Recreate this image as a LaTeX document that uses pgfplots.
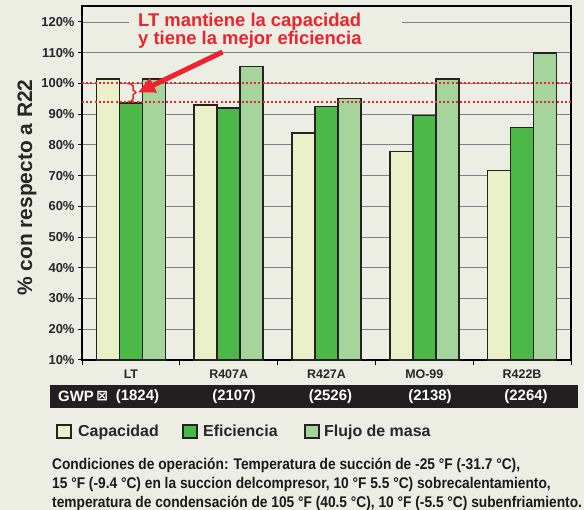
\documentclass[border=0pt]{standalone}
\usepackage{pgfplots}
\pgfplotsset{compat=1.18}
\usepackage{fontspec}
\setmainfont{Liberation Sans}
\newfontfamily\symfont{DejaVu Sans}
\usetikzlibrary{arrows.meta}
\definecolor{bg}{RGB}{236,238,227}
\definecolor{capc}{RGB}{234,240,200}
\definecolor{efic}{RGB}{76,184,72}
\definecolor{flujo}{RGB}{165,212,157}
\definecolor{rojo}{RGB}{237,35,45}
\definecolor{band}{RGB}{35,31,32}
\definecolor{edge}{RGB}{35,35,35}
\begin{document}
\begin{tikzpicture}[x=1bp,y=1bp]
\path[fill=bg] (-82,-150) rectangle (502,360);
\useasboundingbox (-82,-150) rectangle (502,360);
\begin{axis}[
  at={(0,0)}, anchor=south west, scale only axis,
  width=489bp, height=354bp,
  ybar=0pt, bar width=23bp,
  xmin=-0.5, xmax=4.5, ymin=10, ymax=125.2,
  xtick={0,1,2,3,4},
  xticklabels={LT,R407A,R427A,MO-99,R422B},
  minor xtick={-0.5,0.5,1.5,2.5,3.5,4.5},
  major x tick style={draw=none},
  ytick={10,20,...,120},
  yticklabel={\pgfmathprintnumber{\tick}\%},
  /pgf/number format/assume math mode=true,
  xtick pos=lower, ytick pos=left,
  tick align=outside,
  major tick length=4bp, minor tick length=5bp,
  tick style={black, line width=1bp},
  ymajorgrids,
  grid style={black!50, line width=0.9bp},
  axis line style={black, line width=2bp},
  xticklabel style={font=\fontsize{12.5}{12.5}\selectfont\bfseries, text=black!85, yshift=-2bp},
  yticklabel style={font=\fontsize{13}{13}\selectfont\bfseries, text=black!85},
  every axis plot/.append style={draw=edge, line width=1.6bp},
  clip=false,
]
\addplot[fill=capc, draw=edge] coordinates {(0,101.4) (1,93.0) (2,83.8) (3,77.9) (4,71.7)};
\addplot[fill=efic, draw=edge] coordinates {(0,93.6) (1,92.0) (2,92.5) (3,89.6) (4,85.6)};
\addplot[fill=flujo, draw=edge] coordinates {(0,101.4) (1,105.5) (2,95.1) (3,101.5) (4,109.9)};
\draw[rojo, line width=2bp, dash pattern=on 2bp off 2.2bp] (axis cs:-0.5,100) -- (axis cs:4.52,100);
\draw[rojo, line width=2bp, dash pattern=on 2bp off 2.2bp] (axis cs:-0.5,93.8) -- (axis cs:4.52,93.8);
\end{axis}
% y label
\node[rotate=90, font=\fontsize{21}{21}\selectfont\bfseries, text=black!85] at (-55,172.5) {\% con respecto a R22};
% title annotation
\path[fill=bg] (47,334) rectangle (320,342);
\node[anchor=base west, inner sep=0pt, text=rojo, font=\fontsize{18.5}{18.5}\selectfont\bfseries] at (56,333) {LT mantiene la capacidad};
\node[anchor=base west, inner sep=0pt, text=rojo, font=\fontsize{18.5}{18.5}\selectfont\bfseries] at (56,315) {y tiene la mejor eficiencia};
% bracket
\draw[rojo, line width=1.5bp, line join=round] (45.5,276.5) -- (49,276) -- (51,274) -- (51,270) -- (54,267.5) -- (51,265) -- (51,261) -- (49,258.5) -- (45.5,258.5);
% arrow
\draw[rojo, line width=5bp, -{Triangle[length=17bp,width=15bp]}] (140.5,308) -- (56,267.5);
% GWP band
\path[fill=band] (-32,-25) rectangle (496,-48);
\node[anchor=west, inner sep=0pt, text=white, font=\fontsize{15}{15}\selectfont\bfseries] at (-24,-36.5) {GWP\,\raisebox{1bp}{\symfont\fontsize{14}{14}\selectfont ⊠}};
\foreach \xx/\val in {55.5/1824,152/2107,248.5/2526,348/2138,444/2264}{
  \node[inner sep=0pt, text=white, font=\fontsize{15}{15}\selectfont\bfseries] at (\xx,-36.5) {(\val)};
}
% legend
\draw[edge, line width=1.2bp, fill=capc] (-25,-65) rectangle (-11,-78);
\node[anchor=base west, inner sep=0pt, text=black!85, font=\fontsize{16}{16}\selectfont\bfseries] at (-4,-76.5) {Capacidad};
\draw[edge, line width=1.2bp, fill=efic] (101,-65) rectangle (115,-78);
\node[anchor=base west, inner sep=0pt, text=black!85, font=\fontsize{16}{16}\selectfont\bfseries] at (121,-76.5) {Eficiencia};
\draw[edge, line width=1.2bp, fill=flujo] (223,-65) rectangle (237,-78);
\node[anchor=base west, inner sep=0pt, text=black!85, font=\fontsize{16}{16}\selectfont\bfseries] at (242,-76.5) {Flujo de masa};
% footnote
\node[anchor=base west, inner sep=0pt, xscale=0.89, transform shape, text=black!90, font=\fontsize{15.5}{15.5}\selectfont\bfseries] at (-30,-109) {Condiciones de operación: Temperatura de succión de -25 °F (-31.7 °C),};
\node[anchor=base west, inner sep=0pt, xscale=0.89, transform shape, text=black!90, font=\fontsize{15.5}{15.5}\selectfont\bfseries] at (-30,-128) {15 °F (-9.4 °C) en la succion delcompresor, 10 °F 5.5 °C) sobrecalentamiento,};
\node[anchor=base west, inner sep=0pt, xscale=0.89, transform shape, text=black!90, font=\fontsize{15.5}{15.5}\selectfont\bfseries] at (-30,-147) {temperatura de condensación de 105 °F (40.5 °C), 10 °F (-5.5 °C) subenfriamiento.};
\end{tikzpicture}
\end{document}
